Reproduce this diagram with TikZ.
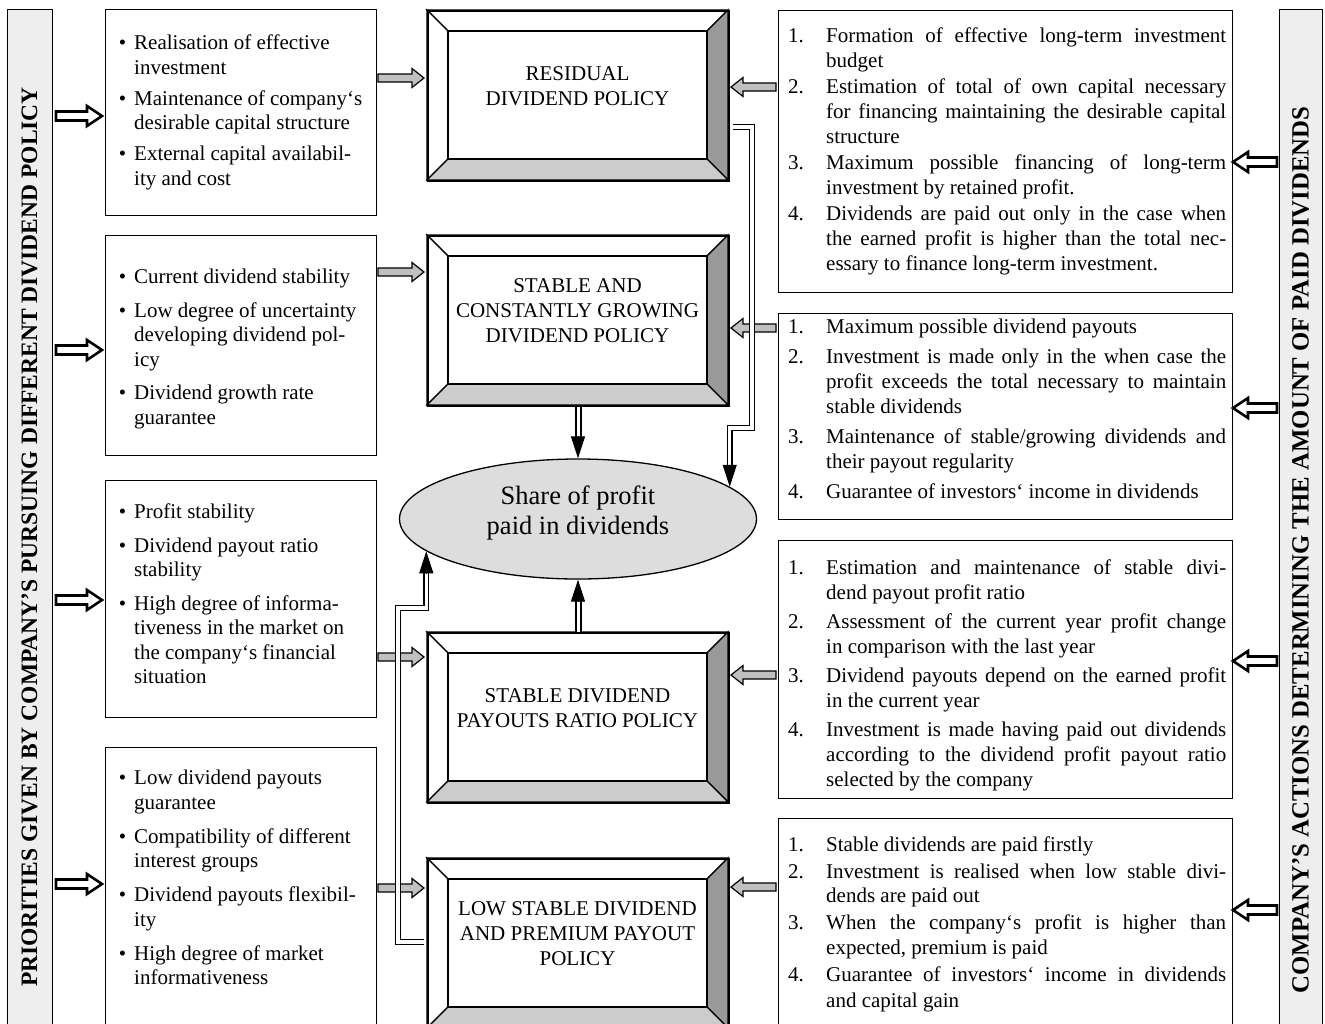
\documentclass[tikz,border=0pt]{standalone}
\usepackage{fontspec}
\setmainfont{Liberation Serif}
\usetikzlibrary{arrows.meta,shapes.geometric}
\definecolor{bevdark}{HTML}{999999}
\definecolor{bevlight}{HTML}{CCCCCC}
\definecolor{arrg}{HTML}{C0C0C0}
\definecolor{sidebg}{HTML}{EEEEEE}
\definecolor{ellg}{HTML}{DDDDDD}
\newcounter{rli}
\newenvironment{blist}[1]{\begin{minipage}{250pt}\raggedright\begin{list}{\textbullet}{\setlength{\leftmargin}{22pt}\setlength{\labelwidth}{14pt}\setlength{\labelsep}{8pt}\setlength{\itemsep}{#1}\setlength{\topsep}{0pt}\setlength{\parsep}{0pt}\setlength{\partopsep}{0pt}}\raggedright}{\end{list}\end{minipage}}
\newenvironment{nlist}[1]{\begin{minipage}{438pt}\begin{list}{\arabic{rli}.}{\usecounter{rli}\setlength{\leftmargin}{38pt}\setlength{\labelwidth}{38pt}\setlength{\labelsep}{0pt}\setlength{\itemsep}{#1}\setlength{\topsep}{0pt}\setlength{\parsep}{0pt}\setlength{\partopsep}{0pt}\renewcommand{\makelabel}[1]{##1\hfil}}}{\end{list}\end{minipage}}
\newcommand{\jl}[1]{\makebox[\linewidth][s]{#1}\newline}
\newcommand{\BlkArr}[7]{\draw[#1] (#2,#4-#5) -- ({#3-(#7)},#4-#5) -- ({#3-(#7)},#4-#6) -- (#3,#4) -- ({#3-(#7)},#4+#6) -- ({#3-(#7)},#4+#5) -- (#2,#4+#5) -- cycle;}
\newcommand{\PolBox}[6]{%
 \draw[bevl, fill=white] (#2,#3) -- (#4,#3) -- (#4-21,#3+21) -- (#2+21,#3+21) -- cycle;
 \draw[bevl, fill=white] (#2,#3) -- (#2+21,#3+21) -- (#2+21,#5-21) -- (#2,#5) -- cycle;
 \draw[bevl, fill=bevdark] (#4,#3) -- (#4,#5) -- (#4-21,#5-21) -- (#4-21,#3+21) -- cycle;
 \draw[bevl, fill=bevlight] (#2,#5) -- (#4,#5) -- (#4-21,#5-21) -- (#2+21,#5-21) -- cycle;
 \draw[bevl, fill=white] (#2+21,#3+21) rectangle (#4-21,#5-21);
 \node[draw, line width=2pt, inner sep=0pt, minimum width=#4-#2, minimum height=#5-#3, anchor=north west] (#1) at (#2,#3) {};
 \node[poltext] (#1t) at ({(#2+#4)/2},{(#3+#5)/2-9}) {#6};
}
\begin{document}
\begin{tikzpicture}[x=1pt,y=-1pt,
  bodyfont/.style={font=\fontsize{21}{25}\selectfont},
  pbox/.style={draw, line width=1.4pt, inner sep=0pt, anchor=north west},
  sidebar/.style={draw, line width=1.4pt, fill=sidebg, inner sep=0pt, anchor=north west},
  bartext/.style={font=\bfseries\fontsize{23.5}{26}\selectfont, inner sep=0pt},
  ltext/.style={font=\fontsize{21}{24.5}\selectfont, anchor=north west, inner sep=0pt},
  rtext/.style={bodyfont, anchor=north west, inner sep=0pt},
  poltext/.style={bodyfont, align=center, inner sep=0pt},
  bevl/.style={draw, line width=1.3pt, line join=miter},
  garr/.style={draw, line width=1.2pt, fill=arrg, line join=miter},
  hol/.style={draw, line width=2.6pt, fill=white, line join=miter},
  dbl/.style={draw, line width=1.4pt, double=white, double distance=3.5pt},
  tipst/.style={line width=1pt, -{Triangle[length=22pt,width=14pt]}}
]
\useasboundingbox (0,0) rectangle (1325,1023);
\clip (0,0) rectangle (1325,1023);
\fill[white] (0,0) rectangle (1325,1023);

% side bars
\node[sidebar, minimum width=45pt, minimum height=1050pt] (LB) at (7,9) {};
\node[bartext, rotate=90] (LBt) at (29.5,537) {PRIORITIES GIVEN BY COMPANY’S PURSUING DIFFERENT DIVIDEND POLICY};
\node[sidebar, minimum width=43pt, minimum height=1050pt] (RB) at (1279,9) {};
\node[bartext, font=\bfseries\fontsize{24.8}{27}\selectfont, rotate=90] (RBt) at (1300.5,550) {COMPANY’S ACTIONS DETERMINING THE AMOUNT OF PAID DIVIDENDS};

% left boxes
\node[pbox, minimum width=271pt, minimum height=206pt] (L1) at (105,9) {};
\node[ltext] (L1t) at (112,35) {\begin{blist}{6.5pt}
\item Realisation of effective\\ investment
\item Maintenance of company‘s\\ desirable capital structure
\item External capital availabil-\\ ity and cost
\end{blist}};
\node[pbox, minimum width=271pt, minimum height=220pt] (L2) at (105,235) {};
\node[ltext] (L2t) at (112,269) {\begin{blist}{9pt}
\item Current dividend stability
\item Low degree of uncertainty\\ developing dividend pol-\\ icy
\item Dividend growth rate\\ guarantee
\end{blist}};
\node[pbox, minimum width=271pt, minimum height=237pt] (L3) at (105,480) {};
\node[ltext] (L3t) at (112,504) {\begin{blist}{9pt}
\item Profit stability
\item Dividend payout ratio\\ stability
\item High degree of informa-\\ tiveness in the market on\\ the company‘s financial\\ situation
\end{blist}};
\node[pbox, minimum width=271pt, minimum height=300pt] (L4) at (105,747) {};
\node[ltext] (L4t) at (112,770) {\begin{blist}{9.5pt}
\item Low dividend payouts\\ guarantee
\item Compatibility of different\\ interest groups
\item Dividend payouts flexibil-\\ ity
\item High degree of market\\ informativeness
\end{blist}};

% right boxes
\node[pbox, minimum width=454pt, minimum height=282pt] (R1) at (778,10) {};
\node[rtext] (R1t) at (788,28) {\begin{nlist}{1pt}
\item \jl{Formation of effective long-term investment}budget
\item \jl{Estimation of total of own capital necessary}\jl{for financing maintaining the desirable capital}structure
\item \jl{Maximum possible financing of long-term}investment by retained profit.
\item \jl{Dividends are paid out only in the case when}\jl{the earned profit is higher than the total nec-}essary to finance long-term investment.
\end{nlist}};
\node[pbox, minimum width=454pt, minimum height=206pt] (R2) at (778,313) {};
\node[rtext] (R2t) at (788,319) {\begin{nlist}{5pt}
\item Maximum possible dividend payouts
\item \jl{Investment is made only in the when case the}\jl{profit exceeds the total necessary to maintain}stable dividends
\item \jl{Maintenance of stable/growing dividends and}their payout regularity
\item \mbox{Guarantee of investors‘ income in dividends}
\end{nlist}};
\node[pbox, minimum width=454pt, minimum height=258pt] (R3) at (778,540) {};
\node[rtext] (R3t) at (788,560) {\begin{nlist}{4pt}
\item \jl{Estimation and maintenance of stable divi-}dend payout profit ratio
\item \jl{Assessment of the current year profit change}in comparison with the last year
\item \jl{Dividend payouts depend on the earned profit}in the current year
\item \jl{Investment is made having paid out dividends}\jl{according to the dividend profit payout ratio}selected by the company
\end{nlist}};
\node[pbox, minimum width=454pt, minimum height=240pt] (R4) at (778,818) {};
\node[rtext] (R4t) at (788,836) {\begin{nlist}{2pt}
\item Stable dividends are paid firstly
\item \jl{Investment is realised when low stable divi-}dends are paid out
\item \jl{When the company‘s profit is higher than}expected, premium is paid
\item \jl{Guarantee of investors‘ income in dividends}and capital gain
\end{nlist}};

% policy boxes
\PolBox{A}{427}{10}{728}{180}{RESIDUAL\\DIVIDEND POLICY}
\PolBox{B}{427}{235}{728}{405}{STABLE AND\\CONSTANTLY GROWING\\DIVIDEND POLICY}
\PolBox{C}{427}{632}{728}{802}{STABLE DIVIDEND\\PAYOUTS RATIO POLICY}
\PolBox{D}{427}{858}{728}{1028}{LOW STABLE DIVIDEND\\AND PREMIUM PAYOUT\\POLICY}

% ellipse
\node[ellipse, draw, line width=1.3pt, fill=ellg, minimum width=357pt, minimum height=120pt, inner sep=0pt] (E) at (578,519) {};
\node[font=\fontsize{26.5}{30}\selectfont, align=center, inner sep=0pt] (Et) at (578,513) {Share of profit\\paid in dividends};

% hollow arrows
\BlkArr{hol}{56}{102}{116}{4.5}{10}{15}
\BlkArr{hol}{56}{102}{350}{4.5}{10}{15}
\BlkArr{hol}{56}{102}{600}{4.5}{10}{15}
\BlkArr{hol}{56}{102}{884}{4.5}{10}{15}
\BlkArr{hol}{1277}{1233}{162}{4.5}{10}{-15}
\BlkArr{hol}{1277}{1233}{408}{4.5}{10}{-15}
\BlkArr{hol}{1277}{1233}{661}{4.5}{10}{-15}
\BlkArr{hol}{1277}{1233}{910}{4.5}{10}{-15}

% gray arrows
\BlkArr{garr}{378}{424}{78}{4}{9.5}{12}
\BlkArr{garr}{378}{424}{272}{4}{9.5}{12}
\BlkArr{garr}{378}{424}{657}{4}{9.5}{12}
\BlkArr{garr}{378}{424}{888}{4}{9.5}{12}
\BlkArr{garr}{776}{731}{87}{4}{9.5}{-12}
\BlkArr{garr}{776}{731}{328}{4}{9.5}{-12}
\BlkArr{garr}{776}{731}{675}{4}{9.5}{-12}
\BlkArr{garr}{776}{731}{887}{4}{9.5}{-12}

% double connectors
\draw[dbl, shorten >=20pt] (B.south) -- (B.south |- E.north);
\draw[tipst] ([yshift=22pt]E.north) -- (E.north);
\draw[dbl, shorten >=20pt] (C.north) -- (C.north |- E.south);
\draw[tipst] ([yshift=-22pt]E.south) -- (E.south);
\coordinate (rc) at (752,428);
\draw[dbl, shorten >=20pt] ([xshift=3pt,yshift=-31pt]A.east) -| (rc) -| (E.12.5);
\draw[tipst] ([yshift=22pt]E.12.5) -- (E.12.5);
\coordinate (lc) at (398,608);
\draw[dbl, shorten >=20pt] ([xshift=-3pt,yshift=2pt]D.west) -| (lc) -| (E.192.5);
\draw[tipst] ([yshift=-22pt]E.192.5) -- (E.192.5);
\end{tikzpicture}
\end{document}
